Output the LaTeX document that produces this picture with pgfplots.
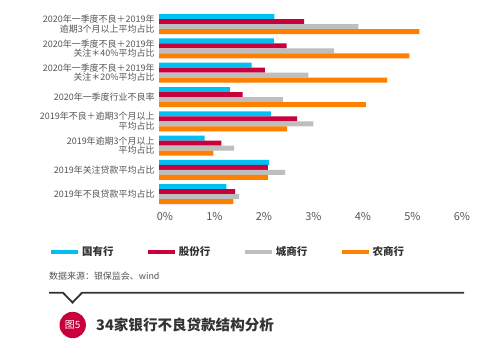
\documentclass[border=0pt]{standalone}
\usepackage{fontspec}
\setmainfont{Noto Sans CJK SC}
\usepackage{pgfplots}
\pgfplotsset{compat=1.18}
\definecolor{cblue}{HTML}{00BFF3}
\definecolor{cred}{HTML}{C8003C}
\definecolor{cgray}{HTML}{BEBEBE}
\definecolor{corange}{HTML}{FF7F00}
\definecolor{ctext}{HTML}{555555}
\definecolor{cdark}{HTML}{333333}
\begin{document}
\begin{tikzpicture}[x=1bp,y=1bp]
\useasboundingbox (0,0) rectangle (487,355);
\fill[white] (0,0) rectangle (487,355);
\begin{axis}[
  at={(159bp,148.7bp)}, anchor=south west,
  scale only axis, width=297bp, height=194.3bp,
  xbar, bar width=5bp,
  xmin=0, xmax=6, ymin=-0.5, ymax=7.5,
  axis line style={draw=none},
  major tick length=0pt,
  xtick={0,1,2,3,4,5,6},
  xticklabels={0\%,1\%,2\%,3\%,4\%,5\%,6\%},
  ytick={0,1,2,3,4,5,6,7},
  yticklabels={
    2019年不良贷款平均占比,
    2019年关注贷款平均占比,
    {2019年逾期3个月以上\\平均占比},
    {2019年不良＋逾期3个月以上\\平均占比},
    2020年一季度行业不良率,
    {2020年一季度不良＋2019年\\关注＊20\%平均占比},
    {2020年一季度不良＋2019年\\关注＊40\%平均占比},
    {2020年一季度不良＋2019年\\逾期3个月以上平均占比}},
  yticklabel style={align=right, font=\fontsize{9}{9.6}\selectfont, text=ctext, xshift=-1bp},
  xticklabel style={font=\fontsize{11}{12}\selectfont, text=ctext, xshift=6bp, yshift=-3bp},
  legend columns=4,
  legend style={draw=none, fill=none, inner sep=0pt, outer sep=0pt,
    at={(-0.370,-0.235)}, anchor=west,
    font=\bfseries\fontsize{10.5}{12}\selectfont, text=cdark,
    /tikz/every odd column/.append style={column sep=0bp},
    /tikz/every even column/.append style={column sep=30.5bp}},
]
\addplot[fill=cblue, draw=none, bar shift=7.5bp,
  legend image code/.code={\draw[cblue,line width=4bp] (0bp,0bp)--(27bp,0bp);}]
  coordinates {(1.36,0) (2.22,1) (0.92,2) (2.26,3) (1.43,4) (1.87,5) (2.32,6) (2.33,7)};
\addplot[fill=cred, draw=none, bar shift=2.5bp,
  legend image code/.code={\draw[cred,line width=4bp] (0bp,0bp)--(27bp,0bp);}]
  coordinates {(1.54,0) (2.20,1) (1.26,2) (2.79,3) (1.69,4) (2.14,5) (2.58,6) (2.93,7)};
\addplot[fill=cgray, draw=none, bar shift=-2.5bp,
  legend image code/.code={\draw[cgray,line width=4bp] (0bp,0bp)--(27bp,0bp);}]
  coordinates {(1.62,0) (2.55,1) (1.52,2) (3.12,3) (2.50,4) (3.02,5) (3.54,6) (4.03,7)};
\addplot[fill=corange, draw=none, bar shift=-7.5bp,
  legend image code/.code={\draw[corange,line width=4bp] (0bp,0bp)--(27bp,0bp);}]
  coordinates {(1.50,0) (2.20,1) (1.10,2) (2.59,3) (4.18,4) (4.61,5) (5.06,6) (5.26,7)};
\legend{国有行,股份行,城商行,农商行}
\end{axis}
\node[anchor=west, inner sep=0pt, text=ctext, font=\fontsize{9}{10}\selectfont] at (49,79) {数据来源：银保监会、wind};
\draw[cdark, line width=1.8bp, line join=miter] (49,62.3) -- (63,62.3) -- (72.5,52.5) -- (82,62.3) -- (464,62.3);
\fill[cred] (72.7,30) circle (13.2);
\node[text=white, inner sep=0pt, font=\fontsize{10}{11}\selectfont] at (72.7,30) {图5};
\node[anchor=west, inner sep=0pt, text=cdark, font=\bfseries\fontsize{14.6}{16}\selectfont] at (96,30) {34家银行不良贷款结构分析};
\end{tikzpicture}
\end{document}
